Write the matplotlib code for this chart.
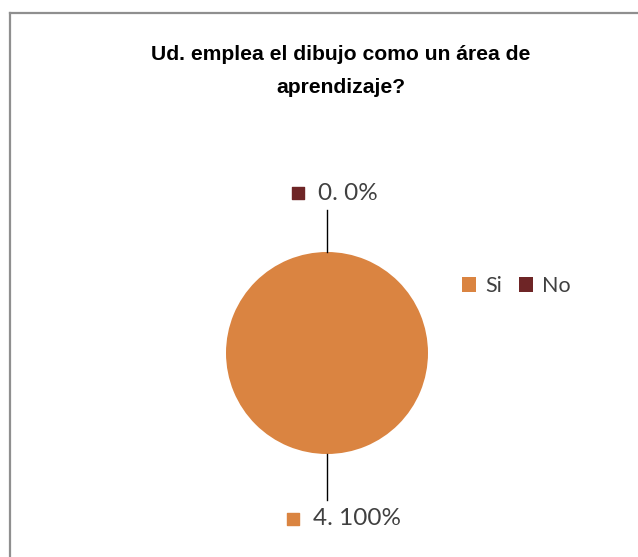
import numpy as np
import matplotlib
matplotlib.use("Agg")
import matplotlib.pyplot as plt
from matplotlib.lines import Line2D
from matplotlib.patches import Patch

# datos
categorias = ["Si", "No"]
valores = [4, 0]
colores = ["#DA8441", "#6E2526"]
titulo = "Ud. emplea el dibujo como un área de\naprendizaje?"

W, H = 638, 557
fig = plt.figure(figsize=(W / 100, H / 100), dpi=100)

# marco (solo arriba e izquierda visibles)
fig.add_artist(Line2D([9.5 / W, 638 / W], [1 - 12.5 / H, 1 - 12.5 / H], color="#8f8f8f", lw=1.6))
fig.add_artist(Line2D([9.5 / W, 9.5 / W], [0, 1 - 12.5 / H], color="#8f8f8f", lw=1.6))

fig.text(341 / W, 1 - 71 / H, titulo, ha="center", va="center", fontsize=15.2,
         fontweight="bold", family="Liberation Sans", linespacing=1.95)

# eje: 1 unidad = 101 px, centro en (327, 353)
r_px = 101
L = 2.5
S = 2 * L * r_px
cx, cy = 327, H - 353
ax = fig.add_axes([(cx - S / 2) / W, (cy - S / 2) / H, S / W, S / H])

wedges, _ = ax.pie(valores, colors=colores, startangle=90, counterclock=False,
                   radius=1, wedgeprops=dict(linewidth=0))
ax.set_xlim(-L, L)
ax.set_ylim(-L, L)
ax.axis("off")

total = sum(valores)
for w, cat, v in zip(wedges, categorias, valores):
    ang = np.deg2rad((w.theta1 + w.theta2) / 2)
    dx, dy = np.cos(ang), np.sin(ang)
    up = dy > 0
    r_line = 1.42 if up else 1.46
    r_txt = 1.58 if up else 1.64
    ax.plot([dx, dx * r_line], [dy, dy * r_line], color="black", lw=1, clip_on=False)
    x0 = dx * r_txt + (-0.09 if up else -0.14)
    y0 = dy * r_txt
    ax.text(x0, y0, f"{v}. {v / total * 100:.0f}%", ha="left", va="center",
            fontsize=17.5, family="Lato", color="#404040")
    ax.scatter([x0 - 0.2], [y0], marker="s", s=70, color=w.get_facecolor(), clip_on=False)

handles = [Patch(facecolor=c, edgecolor="none") for c in colores]
fig.legend(handles, categorias, loc="center left", bbox_to_anchor=(443 / W, 1 - 286 / H),
           ncol=2, frameon=False, handlelength=0.65, handleheight=0.65,
           handletextpad=0.4, columnspacing=0.8, prop=dict(family="Lato", size=15.5),
           labelcolor="#404040")

fig.savefig("out.png", dpi=100)
